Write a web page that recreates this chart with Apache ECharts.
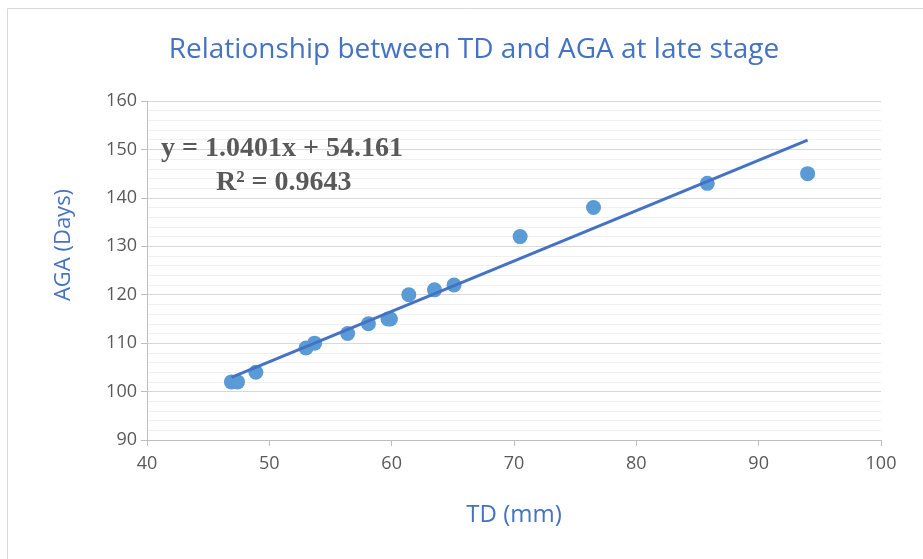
<!DOCTYPE html>
<html><head><meta charset="utf-8">
<script src="https://cdn.jsdelivr.net/npm/echarts@6/dist/echarts.min.js"></script>
<style>html,body{margin:0;padding:0;background:#fff}#c{width:923px;height:559px}</style>
</head><body><div id="c"></div>
<script>
const tdValues = [46.9, 47.4, 48.9, 53.0, 53.7, 56.4, 58.1, 59.7, 59.9, 61.4, 63.5, 65.1, 70.5, 76.5, 85.8, 94.0];
const agaValues = [102, 102, 104, 109, 110, 112, 114, 115, 115, 120, 121, 122, 132, 138, 143, 145];
const slope = 1.0401;
const intercept = 54.161;
const rSquared = 0.9643;
const titleText = 'Relationship between TD and AGA at late stage';
const xName = 'TD (mm)';
const yName = 'AGA (Days)';

const points = tdValues.map((x, i) => [x, agaValues[i]]);
const xMin = Math.min(...tdValues), xMax = Math.max(...tdValues);
const trend = [[xMin, slope * xMin + intercept], [xMax, slope * xMax + intercept]];

const chart = echarts.init(document.getElementById('c'), null, {renderer: 'canvas'});
chart.setOption({
  animation: false,
  backgroundColor: '#fff',
  title: {
    text: titleText, left: 469, top: 31, textAlign: 'center',
    textStyle: {color: '#4472C4', fontSize: 28, fontWeight: 'normal', fontFamily: 'Open Sans'}
  },
  graphic: [
    {type: 'rect', shape: {x: 7.5, y: 8.5, width: 930, height: 560}, style: {fill: 'none', stroke: '#D9D9D9', lineWidth: 1}, silent: true, z: 0},
    {type: 'text', left: 161, top: 135, z: 100, style: {text: 'y = ' + slope + 'x + ' + intercept, font: 'bold 28px "Liberation Serif"', fill: '#595959'}},
    {type: 'text', left: 216, top: 169, z: 100, style: {text: 'R² = ' + rSquared, font: 'bold 28px "Liberation Serif"', fill: '#595959'}},
    {type: 'text', x: 64, y: 245, rotation: Math.PI / 2, z: 100,
     style: {text: yName, font: '22px "Open Sans"', fill: '#4472C4', textAlign: 'center', textVerticalAlign: 'middle'}}
  ],
  grid: {left: 147, right: 42, top: 101, bottom: 119},
  xAxis: {
    type: 'value', min: 40, max: 100, interval: 10,
    name: xName, nameLocation: 'middle', nameGap: 63,
    nameTextStyle: {color: '#4472C4', fontSize: 24, fontFamily: 'Open Sans'},
    axisLine: {show: true, lineStyle: {color: '#BFBFBF', width: 1}},
    axisTick: {show: true, length: 6, lineStyle: {color: '#BFBFBF'}},
    axisLabel: {color: '#595959', fontSize: 18, margin: 15, fontFamily: 'Open Sans'},
    splitLine: {show: false}
  },
  yAxis: {
    type: 'value', min: 90, max: 160, interval: 10,
    axisLine: {show: true, lineStyle: {color: '#BFBFBF', width: 1}},
    axisTick: {show: true, length: 6, lineStyle: {color: '#BFBFBF'}},
    minorTick: {show: false, splitNumber: 5},
    minorSplitLine: {show: true, lineStyle: {color: '#F0F0F0', width: 1}},
    axisLabel: {color: '#595959', fontSize: 18, margin: 10, fontFamily: 'Open Sans'},
    splitLine: {show: true, lineStyle: {color: '#D9D9D9', width: 1}}
  },
  series: [
    {type: 'line', data: trend, symbol: 'none', z: 3,
     lineStyle: {color: '#4472C4', width: 3}},
    {type: 'scatter', data: points, symbol: 'circle', symbolSize: 15, z: 2,
     itemStyle: {color: '#5B9BD5', opacity: 1}}
  ]
});
</script></body></html>
